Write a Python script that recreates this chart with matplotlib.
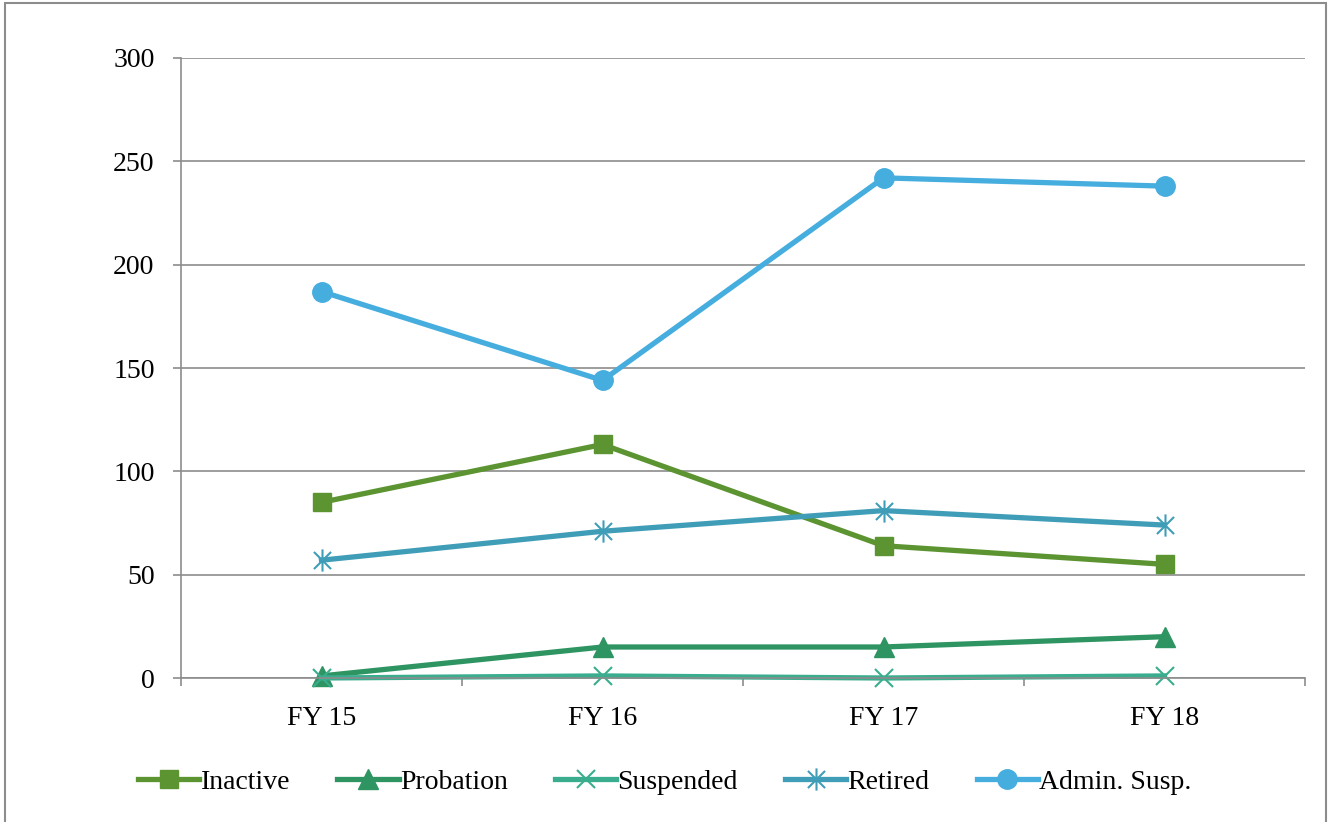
import matplotlib.pyplot as plt
import numpy as np
from matplotlib.path import Path
from matplotlib.patches import Rectangle

plt.rcParams['font.family'] = ['Liberation Serif', 'DejaVu Serif']

# data
years = ['FY 15', 'FY 16', 'FY 17', 'FY 18']
inactive = [85, 113, 64, 55]
probation = [1, 15, 15, 20]
suspended = [0, 1, 0, 1]
retired = [57, 71, 81, 74]
admin_susp = [187, 144, 242, 238]

series_names = ['Inactive', 'Probation', 'Suspended', 'Retired', 'Admin. Susp.']
colors = ['#5B9431', '#2E9462', '#3AAD8E', '#409DB8', '#46ADDF']

# Excel-like asterisk: an x plus a vertical bar
star_path = Path(
    [(-1, -1), (1, 1), (-1, 1), (1, -1), (0, -1.3), (0, 1.3)],
    [Path.MOVETO, Path.LINETO, Path.MOVETO, Path.LINETO, Path.MOVETO, Path.LINETO],
)

fig = plt.figure(figsize=(13.3, 8.22), dpi=100)
ax = fig.add_axes([181 / 1330, 1 - 678 / 822, 1124 / 1330, 620 / 822])

x = np.arange(len(years))
styles = [
    dict(marker='s', markersize=13),
    dict(marker='^', markersize=14),
    dict(marker='x', markersize=13, markeredgewidth=1.5),
    dict(marker=star_path, markersize=16, markeredgewidth=1.5),
    dict(marker='o', markersize=14),
]
all_vals = [inactive, probation, suspended, retired, admin_susp]

for vals, name, col, st in zip(all_vals, series_names, colors, styles):
    ax.plot(x, vals, color=col, linewidth=3.8, label=name, clip_on=False,
            markerfacecolor=col, markeredgecolor=col, **st)

ax.set_xlim(-0.5, len(years) - 0.5)
ax.set_ylim(0, 300)
ax.set_yticks(np.arange(0, 301, 50))
ax.set_xticks(x)
ax.set_xticklabels(years)
ax.set_xticks(np.arange(-0.5, len(years), 1), minor=True)

ax.grid(axis='y', color='#8c8c8c', linewidth=1.2)
ax.set_axisbelow(True)
for side in ['top', 'right']:
    ax.spines[side].set_visible(False)
for side in ['left', 'bottom']:
    ax.spines[side].set_color('#8c8c8c')
    ax.spines[side].set_linewidth(1.2)

ax.tick_params(axis='x', which='major', length=0, pad=20, labelsize=20)
ax.tick_params(axis='x', which='minor', length=6, width=1.2, color='#8c8c8c')
ax.tick_params(axis='y', length=6, width=1.2, color='#8c8c8c', pad=13, labelsize=20)

fig.legend(loc='center', bbox_to_anchor=(0.5, 1 - 782 / 822), ncol=5, frameon=False,
           fontsize=20, handlelength=2.2, handletextpad=0.05, columnspacing=1.7)

# outer frame around the chart
fig.patches.append(Rectangle((5 / 1330, -0.01), 1321 / 1330, 1 - 3 / 822 + 0.01,
                             transform=fig.transFigure, fill=False,
                             edgecolor='#8c8c8c', linewidth=1.5))

fig.savefig('out.png', dpi=100)
